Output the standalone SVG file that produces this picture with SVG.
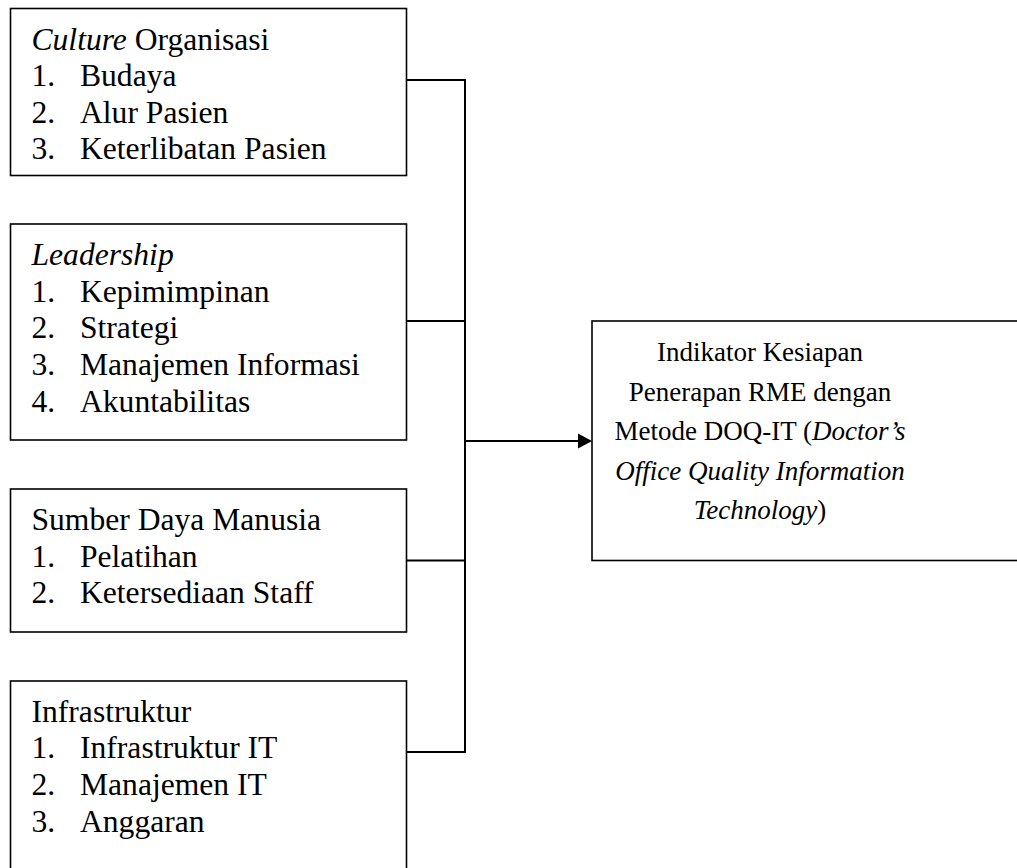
<svg xmlns="http://www.w3.org/2000/svg" width="1017" height="868" viewBox="0 0 1017 868">
<style>
.box{fill:#fff;stroke:#000;stroke-width:1.6}
.t{font-family:"Liberation Serif","Times New Roman",serif;font-size:31.6px;fill:#000}
.r{font-family:"Liberation Serif","Times New Roman",serif;font-size:27px;fill:#000;text-anchor:middle}
.ln{fill:none;stroke:#000;stroke-width:2}
</style>
<rect width="1017" height="868" fill="#fff"/>
<g id="connectors">
<polyline class="ln" points="406.5,80 465,80 465,752 406.5,752"/>
<line class="ln" x1="406.5" y1="321" x2="465" y2="321"/>
<line class="ln" x1="406.5" y1="560.5" x2="465" y2="560.5"/>
<line class="ln" x1="465" y1="441" x2="580" y2="441"/>
<polygon points="578,433.5 592,441 578,448.5" fill="#000"/>
</g>
<g id="culture">
<rect class="box" x="10.5" y="8.5" width="396" height="167"/>
<text class="t" x="31.5" y="49.5"><tspan font-style="italic">Culture</tspan> Organisasi</text>
<text class="t" x="31.5" y="86">1.</text><text class="t" x="80" y="86">Budaya</text>
<text class="t" x="31.5" y="122.5">2.</text><text class="t" x="80" y="122.5">Alur Pasien</text>
<text class="t" x="31.5" y="159">3.</text><text class="t" x="80" y="159">Keterlibatan Pasien</text>
</g>
<g id="leadership">
<rect class="box" x="10.5" y="224" width="396" height="216"/>
<text class="t" x="31.5" y="264.5" font-style="italic">Leadership</text>
<text class="t" x="31.5" y="301.5">1.</text><text class="t" x="80" y="301.5">Kepimimpinan</text>
<text class="t" x="31.5" y="338">2.</text><text class="t" x="80" y="338">Strategi</text>
<text class="t" x="31.5" y="375">3.</text><text class="t" x="80" y="375">Manajemen Informasi</text>
<text class="t" x="31.5" y="411.5">4.</text><text class="t" x="80" y="411.5">Akuntabilitas</text>
</g>
<g id="sdm">
<rect class="box" x="10.5" y="489" width="396" height="143"/>
<text class="t" x="31.5" y="530">Sumber Daya Manusia</text>
<text class="t" x="31.5" y="566.5">1.</text><text class="t" x="80" y="566.5">Pelatihan</text>
<text class="t" x="31.5" y="603">2.</text><text class="t" x="80" y="603">Ketersediaan Staff</text>
</g>
<g id="infrastruktur">
<rect class="box" x="10.5" y="681" width="396" height="200"/>
<text class="t" x="31.5" y="721.5">Infrastruktur</text>
<text class="t" x="31.5" y="758">1.</text><text class="t" x="80" y="758">Infrastruktur IT</text>
<text class="t" x="31.5" y="795">2.</text><text class="t" x="80" y="795">Manajemen IT</text>
<text class="t" x="31.5" y="831.5">3.</text><text class="t" x="80" y="831.5">Anggaran</text>
</g>
<g id="indikator">
<rect class="box" x="592" y="321" width="440" height="239.5"/>
<text class="r" x="760" y="361">Indikator Kesiapan</text>
<text class="r" x="760" y="400.5">Penerapan RME dengan</text>
<text class="r" x="760" y="440">Metode DOQ-IT (<tspan font-style="italic">Doctor’s</tspan></text>
<text class="r" x="760" y="479.5" font-style="italic">Office Quality Information</text>
<text class="r" x="760" y="519"><tspan font-style="italic">Technology</tspan>)</text>
</g>
</svg>
